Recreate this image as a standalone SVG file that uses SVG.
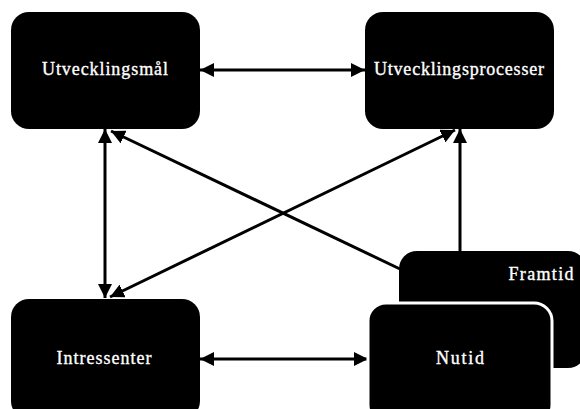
<svg xmlns="http://www.w3.org/2000/svg" width="580" height="409" viewBox="0 0 580 409">
  <defs>
    <marker id="ah" markerUnits="userSpaceOnUse" markerWidth="16" markerHeight="14" refX="14" refY="7" orient="auto-start-reverse" viewBox="0 0 16 14">
      <path d="M0,0 L14,7 L0,14 Z" fill="#000"/>
    </marker>
    <style>
      .box { fill: #000; }
      .lbl { fill: #fff; stroke: #fff; stroke-width: 0.35; font-family: "Liberation Serif", "Times New Roman", serif; font-size: 18px; font-weight: normal; text-anchor: middle; }
      .con { stroke: #000; stroke-width: 3; fill: none; }
    </style>
  </defs>
  <rect width="580" height="409" fill="#fff"/>
  <g id="connectors">
    <line class="con" x1="200" y1="70" x2="365" y2="70" marker-start="url(#ah)" marker-end="url(#ah)"/>
    <line class="con" x1="200" y1="359" x2="368" y2="359" marker-start="url(#ah)" marker-end="url(#ah)"/>
    <line class="con" x1="105" y1="129" x2="105" y2="298" marker-start="url(#ah)" marker-end="url(#ah)"/>
    <line class="con" x1="111" y1="131" x2="400" y2="269" marker-start="url(#ah)"/>
    <line class="con" x1="455" y1="130" x2="110" y2="297" marker-start="url(#ah)" marker-end="url(#ah)"/>
    <line class="con" x1="460" y1="252" x2="460" y2="129" marker-end="url(#ah)"/>
  </g>
  <g id="utvecklingsmal">
    <rect class="box" x="11" y="12" width="189" height="117" rx="18"/>
    <text class="lbl" x="105" y="75" textLength="126" lengthAdjust="spacing">Utvecklingsmål</text>
  </g>
  <g id="utvecklingsprocesser">
    <rect class="box" x="365" y="12" width="189" height="117" rx="18"/>
    <text class="lbl" x="459" y="75" textLength="170" lengthAdjust="spacing">Utvecklingsprocesser</text>
  </g>
  <g id="intressenter">
    <rect class="box" x="11" y="299" width="189" height="120" rx="18"/>
    <text class="lbl" x="104" y="364" textLength="95" lengthAdjust="spacing">Intressenter</text>
  </g>
  <g id="framtid">
    <rect class="box" x="399" y="251" width="187" height="117" rx="18"/>
    <text class="lbl" x="541" y="280" textLength="65" lengthAdjust="spacing">Framtid</text>
  </g>
  <g id="nutid">
    <rect class="box" x="368" y="303" width="184" height="120" rx="18" stroke="#fff" stroke-width="3"/>
    <text class="lbl" x="460" y="364" textLength="48" lengthAdjust="spacing">Nutid</text>
  </g>
</svg>
